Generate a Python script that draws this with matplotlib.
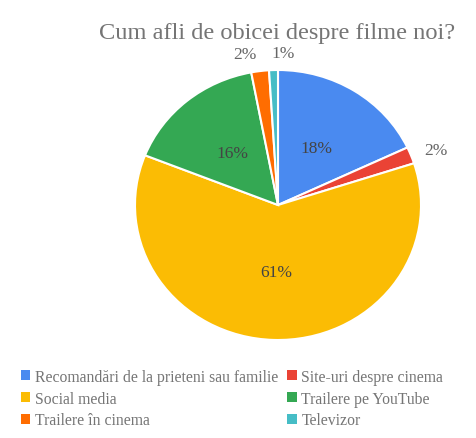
import numpy as np
import matplotlib.pyplot as plt

labels = ["Recomandări de la prieteni sau familie", "Site-uri despre cinema",
          "Social media", "Trailere pe YouTube", "Trailere în cinema", "Televizor"]
shares = [18, 2, 61, 16, 2, 1]
colors = ["#4A8AF0", "#EA4335", "#FBBC04", "#34A853", "#FF6D01", "#46BDC6"]

plt.rcParams['font.family'] = ['Liberation Serif', 'DejaVu Serif']

W, H = 476, 439
fig = plt.figure(figsize=(W / 100, H / 100), dpi=100)
# pie is drawn slightly wider than tall
cx, cy, rx, ry = 278, 206, 143, 135
ax = fig.add_axes([(cx - rx) / W, (H - cy - ry) / H, 2 * rx / W, 2 * ry / H])

wedges, _ = ax.pie(shares, colors=colors, startangle=90, counterclock=False,
                   radius=1, wedgeprops=dict(edgecolor="white", linewidth=1.5))
ax.set_xlim(-1, 1)
ax.set_ylim(-1, 1)
ax.set_aspect("auto")
ax.axis("off")

# nudges for the outside labels so the thin top slices don't collide
nudge = {1: (0.085, 0.0), 4: (-0.09, 0.025), 5: (0.07, 0.025)}

for i, (w, v) in enumerate(zip(wedges, shares)):
    mid = np.deg2rad((w.theta1 + w.theta2) / 2)
    if v >= 5:
        ax.text(0.5 * np.cos(mid), 0.5 * np.sin(mid), f"{v}%", ha="center", va="center",
                fontsize=12.5, color="#444444")
        continue
    dx, dy = nudge.get(i, (0, 0))
    ax.text(1.1 * np.cos(mid) + dx, 1.1 * np.sin(mid) + dy, f"{v}%", ha="center",
            va="center", fontsize=12.5, color="#666666", clip_on=False)

fig.text(277 / W, 1 - 33 / H, "Cum afli de obicei despre filme noi?",
         ha="center", va="center", fontsize=17.6, color="#757575")

order = [0, 2, 4, 1, 3, 5]
leg = fig.legend([wedges[i] for i in order], [labels[i] for i in order], ncol=2,
                 loc="upper left", bbox_to_anchor=(0.02, 1 - 359 / H), frameon=False,
                 fontsize=11.3, handlelength=0.6, handleheight=0.6, handletextpad=0.3,
                 columnspacing=0.6, labelspacing=0.36, labelcolor="#757575",
                 borderpad=0.2)
for h in leg.legend_handles:
    h.set_edgecolor("none")

fig.savefig("out.png", dpi=100)
